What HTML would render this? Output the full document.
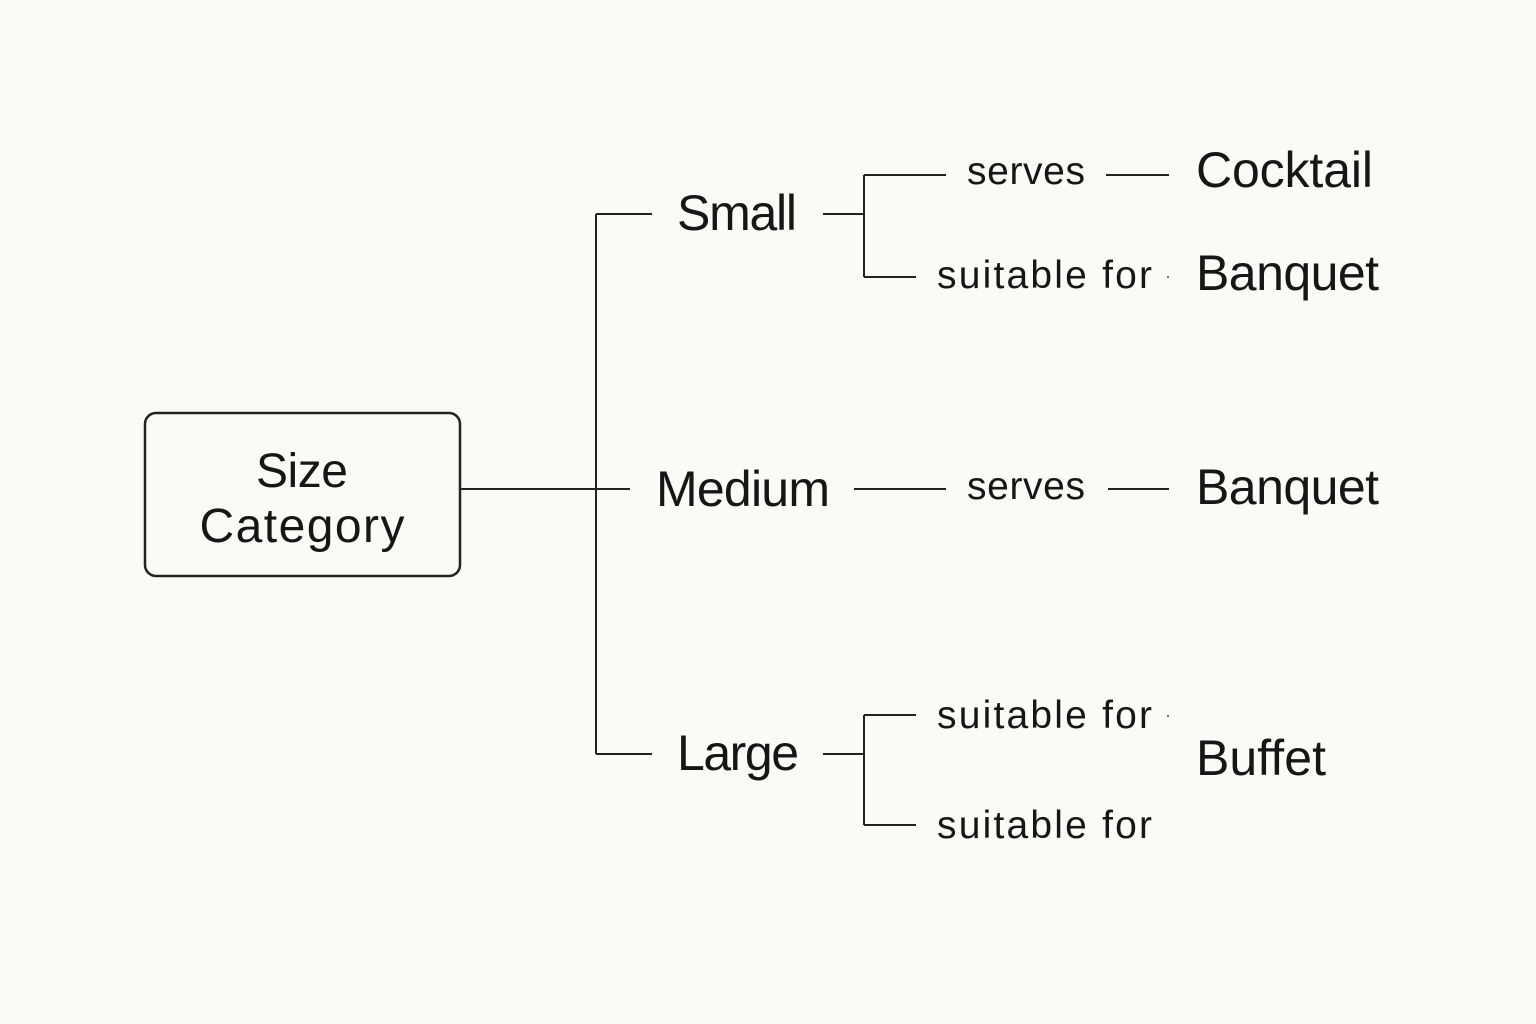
<!DOCTYPE html>
<html><head><meta charset="utf-8"><style>
html,body{margin:0;padding:0;background:#fbfaf6;}
svg{display:block}
text{font-family:"Liberation Sans","DejaVu Sans",sans-serif;fill:#161616}
</style></head><body>
<svg width="1536" height="1024" viewBox="0 0 1536 1024" xmlns="http://www.w3.org/2000/svg">
<rect width="1536" height="1024" fill="#fbfaf6"/>
<g stroke="#222" stroke-width="2" fill="none">
<rect x="145" y="413" width="315" height="163" rx="11" stroke-width="2.5"/>
<line x1="460" y1="489" x2="630" y2="489"/>
<line x1="596" y1="214" x2="596" y2="754"/>
<line x1="596" y1="214" x2="652" y2="214"/>
<line x1="596" y1="754" x2="652" y2="754"/>
<line x1="823" y1="214" x2="864" y2="214"/>
<line x1="864" y1="175" x2="864" y2="277"/>
<line x1="864" y1="175" x2="946" y2="175"/>
<line x1="864" y1="277" x2="916" y2="277"/>
<line x1="1106" y1="175" x2="1169" y2="175"/>
<line x1="854" y1="489" x2="946" y2="489"/>
<line x1="1108" y1="489" x2="1169" y2="489"/>
<line x1="823" y1="754" x2="864" y2="754"/>
<line x1="864" y1="715" x2="864" y2="825"/>
<line x1="864" y1="715" x2="916" y2="715"/>
<line x1="864" y1="825" x2="916" y2="825"/>
</g>
<circle cx="1168" cy="277" r="1" fill="#444"/>
<circle cx="1168" cy="716" r="1" fill="#444"/>
<text x="302" y="487" font-size="48" text-anchor="middle" textLength="92">Size</text>
<text x="302" y="542" font-size="48" text-anchor="middle" textLength="205">Category</text>
<text x="677" y="230" font-size="50" textLength="120">Small</text>
<text x="656" y="506" font-size="50" textLength="174">Medium</text>
<text x="677" y="770" font-size="50" textLength="122">Large</text>
<text x="967" y="184" font-size="39" textLength="118">serves</text>
<text x="937" y="288" font-size="39" textLength="215">suitable for</text>
<text x="967" y="499" font-size="39" textLength="118">serves</text>
<text x="937" y="728" font-size="39" textLength="215">suitable for</text>
<text x="937" y="838" font-size="39" textLength="215">suitable for</text>
<text x="1196" y="187" font-size="50" textLength="177">Cocktail</text>
<text x="1196" y="290" font-size="50" textLength="183">Banquet</text>
<text x="1196" y="504" font-size="50" textLength="183">Banquet</text>
<text x="1196" y="775" font-size="50" textLength="130">Buffet</text>
</svg>
</body></html>
